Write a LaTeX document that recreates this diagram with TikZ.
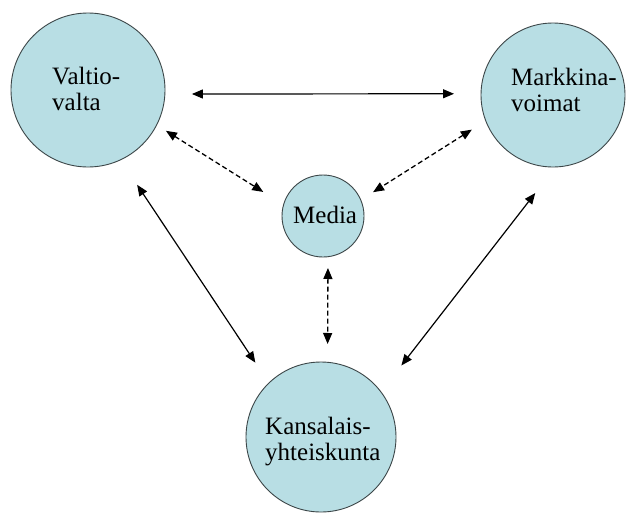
\documentclass[tikz,border=0pt]{standalone}
\usepackage{fontspec}
\setmainfont{Liberation Serif}
\usetikzlibrary{arrows.meta}
\definecolor{bubblefill}{RGB}{184,222,228}
\definecolor{bubbleline}{RGB}{60,70,72}
\tikzset{
  bubble/.style={circle, draw=bubbleline, line width=0.9pt, fill=bubblefill, inner sep=0pt, outer sep=0pt},
  lbl/.style={anchor=base west, align=left, inner sep=0pt, font=\fontsize{25}{26}\selectfont},
  tip/.style={Triangle[length=11pt,width=9pt]},
  solidlink/.style={line width=1.2pt, {Triangle[length=11pt,width=9pt]}-{Triangle[length=11pt,width=9pt]}},
  dashlink/.style={line width=1.3pt, dash pattern=on 5pt off 3pt, {Triangle[length=11pt,width=9pt]}-{Triangle[length=11pt,width=9pt]}}
}
\begin{document}
\begin{tikzpicture}[x=1pt,y=-1pt]
\useasboundingbox (0,0) rectangle (626,512);
\fill[white] (0,0) rectangle (626,512);
% circles
\node[bubble, minimum size=154pt] (v) at (88,90) {};
\node[bubble, minimum size=144pt] (m) at (553,95) {};
\node[bubble, minimum size=82pt] (med) at (323,216) {};
\node[bubble, minimum size=150pt] (k) at (321,437) {};
% labels (base anchor = last line)
\node[lbl] (vt) at (52,110) {Valtio-\\valta};
\node[lbl] (mt) at (511,111) {Markkina-\\voimat};
\node[lbl] (medt) at (293,223) {Media};
\node[lbl] (kt) at (265,460) {Kansalais-\\yhteiskunta};
% connectors
\draw[solidlink, shorten <=27pt, shorten >=27pt] (v.357) -- (m.179);
\draw[dashlink, shorten <=11pt, shorten >=24pt] (v.333) -- (med.164);
\draw[dashlink, shorten <=16.5pt, shorten >=14.6pt] (m.201) -- (med.23);
\draw[solidlink, shorten <=30pt, shorten >=24.5pt] (v.295) -- (k.134);
\draw[solidlink, shorten <=33pt, shorten >=33.4pt] (m.272) -- (k.37.5);
\draw[dashlink, shorten <=11.3pt, shorten >=18.3pt] (med.277) -- (k.85);
\end{tikzpicture}
\end{document}
